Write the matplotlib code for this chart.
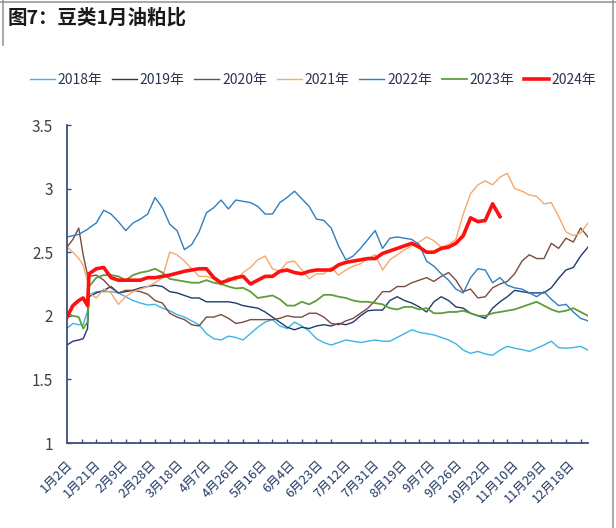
import numpy as np
import pandas as pd
import matplotlib
matplotlib.use('Agg')
import matplotlib.pyplot as plt
import matplotlib.transforms as mtrans
from matplotlib.lines import Line2D
from matplotlib.ticker import FixedLocator, FuncFormatter

plt.rcParams['font.family'] = ['Noto Sans CJK SC', 'DejaVu Sans']

# category axis = calendar days minus the long holidays (no quotes those days)
days = pd.date_range('2024-01-02', '2024-12-31', freq='D')
holidays = pd.to_datetime(['2024-04-04', '2024-05-01'] +
                          ['2024-10-0%d' % d for d in range(1, 8)])
days = days[~days.isin(holidays)]
date_labels = ['%d月%d日' % (d.month, d.day) for d in days]
label_step = 19
tick_step = 10

sample_pos = [0, 4, 8, 11, 14, 15] + list(range(20, 356, 5))

years = ['2018年', '2019年', '2020年', '2021年', '2022年', '2023年', '2024年']

s2018 = [1.90, 1.94, 1.93, 1.93, 2.04, 2.165,
         2.19, 2.19, 2.19, 2.18, 2.15, 2.12, 2.10, 2.085, 2.09, 2.06,
         2.04, 2.01, 1.99, 1.96, 1.93, 1.86, 1.82, 1.81, 1.84, 1.83,
         1.81, 1.86, 1.91, 1.95, 1.97, 1.92, 1.90, 1.95, 1.92, 1.88,
         1.82, 1.79, 1.77, 1.79, 1.81, 1.80, 1.79, 1.80, 1.81, 1.80,
         1.80, 1.83, 1.86, 1.89, 1.87, 1.86, 1.85, 1.83, 1.81, 1.78,
         1.73, 1.705, 1.72, 1.70, 1.69, 1.73, 1.76, 1.745, 1.735, 1.72,
         1.745, 1.77, 1.80, 1.75, 1.745, 1.75, 1.76, 1.73]
s2019 = [1.77, 1.80, 1.81, 1.82, 1.90, 2.15,
         2.18, 2.20, 2.23, 2.18, 2.19, 2.20, 2.22, 2.23, 2.24, 2.23,
         2.19, 2.18, 2.16, 2.14, 2.14, 2.11, 2.11, 2.11, 2.11, 2.10,
         2.08, 2.07, 2.06, 2.03, 1.99, 1.95, 1.91, 1.89, 1.91, 1.90,
         1.92, 1.93, 1.92, 1.94, 1.93, 1.95, 2.00, 2.04, 2.045, 2.045,
         2.12, 2.15, 2.12, 2.10, 2.07, 2.03, 2.11, 2.15, 2.12, 2.07,
         2.06, 2.02, 2.00, 1.98, 2.06, 2.11, 2.15, 2.20, 2.19, 2.18,
         2.18, 2.18, 2.22, 2.295, 2.36, 2.38, 2.47, 2.54]
s2020 = [2.54, 2.60, 2.69, 2.48, 2.32, 2.31,
         2.32, 2.28, 2.22, 2.18, 2.20, 2.20, 2.19, 2.17, 2.12, 2.10,
         2.02, 1.99, 1.97, 1.93, 1.92, 1.99, 1.99, 2.01, 1.98, 1.94,
         1.95, 1.97, 1.97, 1.97, 1.97, 1.98, 2.00, 1.99, 1.99, 2.02,
         2.02, 1.99, 1.94, 1.93, 1.96, 1.98, 2.02, 2.06, 2.12, 2.19,
         2.19, 2.23, 2.23, 2.26, 2.28, 2.30, 2.27, 2.31, 2.34, 2.28,
         2.19, 2.21, 2.14, 2.15, 2.22, 2.25, 2.27, 2.33, 2.43, 2.48,
         2.45, 2.45, 2.57, 2.53, 2.61, 2.58, 2.69, 2.62]
s2021 = [2.54, 2.50, 2.45, 2.40, 2.27, 2.18,
         2.14, 2.21, 2.18, 2.09, 2.15, 2.19, 2.21, 2.23, 2.26, 2.30,
         2.50, 2.48, 2.43, 2.37, 2.31, 2.31, 2.29, 2.24, 2.30, 2.28,
         2.34, 2.38, 2.44, 2.47, 2.37, 2.35, 2.42, 2.43, 2.36, 2.29,
         2.33, 2.33, 2.38, 2.32, 2.36, 2.39, 2.41, 2.45, 2.48, 2.36,
         2.44, 2.48, 2.52, 2.55, 2.58, 2.62, 2.59, 2.54, 2.56, 2.60,
         2.80, 2.96, 3.03, 3.06, 3.03, 3.09, 3.12, 3.00, 2.98, 2.95,
         2.94, 2.88, 2.89, 2.78, 2.66, 2.63, 2.65, 2.73]
s2022 = [2.62, 2.63, 2.64, 2.66, 2.68, 2.69,
         2.73, 2.83, 2.80, 2.74, 2.67, 2.73, 2.76, 2.80, 2.93, 2.85,
         2.72, 2.67, 2.52, 2.56, 2.66, 2.81, 2.85, 2.91, 2.84, 2.91,
         2.90, 2.89, 2.86, 2.80, 2.80, 2.89, 2.93, 2.98, 2.92, 2.86,
         2.76, 2.75, 2.69, 2.55, 2.44, 2.47, 2.53, 2.60, 2.67, 2.53,
         2.61, 2.62, 2.61, 2.60, 2.56, 2.43, 2.39, 2.33, 2.28, 2.21,
         2.18, 2.30, 2.37, 2.36, 2.26, 2.30, 2.24, 2.22, 2.21, 2.18,
         2.15, 2.19, 2.13, 2.08, 2.09, 2.03, 1.98, 1.96]
s2023 = [2.02, 2.00, 1.99, 1.90, 1.95, 2.23,
         2.30, 2.32, 2.32, 2.31, 2.28, 2.32, 2.34, 2.35, 2.37, 2.34,
         2.29, 2.28, 2.27, 2.26, 2.26, 2.28, 2.26, 2.25, 2.23, 2.215,
         2.22, 2.19, 2.14, 2.15, 2.16, 2.13, 2.08, 2.08, 2.11, 2.09,
         2.12, 2.165, 2.165, 2.15, 2.14, 2.12, 2.11, 2.11, 2.10, 2.09,
         2.06, 2.05, 2.07, 2.07, 2.05, 2.06, 2.02, 2.02, 2.03, 2.03,
         2.04, 2.02, 2.00, 2.00, 2.02, 2.03, 2.04, 2.05, 2.07, 2.09,
         2.11, 2.08, 2.05, 2.03, 2.04, 2.06, 2.03, 2.00]
s2024 = [1.99, 2.08, 2.12, 2.14, 2.08, 2.33,
         2.37, 2.38, 2.30, 2.28, 2.28, 2.28, 2.28, 2.30, 2.30, 2.31,
         2.32, 2.335, 2.35, 2.36, 2.37, 2.37, 2.30, 2.26, 2.28, 2.30,
         2.31, 2.25, 2.28, 2.31, 2.31, 2.35, 2.36, 2.34, 2.33, 2.35,
         2.36, 2.36, 2.36, 2.40, 2.42, 2.43, 2.44, 2.45, 2.45, 2.49,
         2.51, 2.53, 2.55, 2.57, 2.54, 2.50, 2.50, 2.53, 2.54, 2.57,
         2.63, 2.77, 2.74, 2.75, 2.88, 2.78] + [np.nan] * 12

series = [s2018, s2019, s2020, s2021, s2022, s2023, s2024]
colors = ['#3DB4E6', '#1F3A70', '#7B4B42', '#F5A96B', '#2E7EC0', '#5E9E3A', '#FF1010']
widths = [1.0, 1.0, 1.0, 1.0, 1.0, 1.3, 2.6]

W, H = 616, 528
fig = plt.figure(figsize=(W / 100, H / 100), dpi=100)
ax = fig.add_axes([67 / W, 1 - 443 / H, (588 - 67) / W, (443 - 125) / H])

for name, vals, c, lw in zip(years, series, colors, widths):
    ax.plot(sample_pos, vals, color=c, lw=lw, label=name, solid_joinstyle='round')

ax.set_xlim(0, len(days) - 1)
ax.set_ylim(1, 3.5)

label_idx = list(range(0, len(days), label_step))
ax.xaxis.set_major_locator(FixedLocator(label_idx))
ax.set_xticklabels([date_labels[i] for i in label_idx], rotation=45,
                   ha='right', va='top', fontsize=9.2, color='#1F3864')
ax.xaxis.set_minor_locator(FixedLocator(range(0, len(days), tick_step)))
ax.tick_params(axis='x', which='major', length=0, pad=11)
ax.tick_params(axis='x', which='minor', direction='in', length=3,
               width=1, color='#3D4F7A')
shift = mtrans.ScaledTranslation(8 / 100, 0, fig.dpi_scale_trans)
for lab in ax.get_xticklabels():
    lab.set_transform(lab.get_transform() + shift)

ax.set_yticks(np.arange(1, 3.51, 0.5))
ax.yaxis.set_major_formatter(FuncFormatter(lambda v, p: '%g' % v))
ax.tick_params(axis='y', direction='in', length=3, width=1, color='#3D4F7A',
               labelsize=11, labelcolor='#404040', pad=10)

for side in ['top', 'right']:
    ax.spines[side].set_visible(False)
for side in ['left', 'bottom']:
    ax.spines[side].set_color('#3D4F7A')
    ax.spines[side].set_linewidth(1.3)

handles, labels = ax.get_legend_handles_labels()
leg = fig.legend(handles, labels, loc='center', bbox_to_anchor=(313 / W, 1 - 80 / H),
                 ncol=7, frameon=False, fontsize=10, handlelength=1.8,
                 handletextpad=0.2, columnspacing=0.7)
for t in leg.get_texts():
    t.set_color('#2B3550')

fig.text(8 / W, 1 - 18 / H, '图7：豆类1月油粕比', fontsize=14, fontweight='bold',
         color='#1A1A1A', ha='left', va='center')

# picture frame
frame = '#9A9A9A'
fig.add_artist(Line2D([0, 1], [1 - 2 / H, 1 - 2 / H], color=frame, lw=1.2))
fig.add_artist(Line2D([3 / W, 3 / W], [1, 1 - 45 / H], color=frame, lw=1.2))
fig.add_artist(Line2D([1 - 3 / W, 1 - 3 / W], [0, 1], color=frame, lw=1.2))

fig.savefig('out.png', dpi=100)
